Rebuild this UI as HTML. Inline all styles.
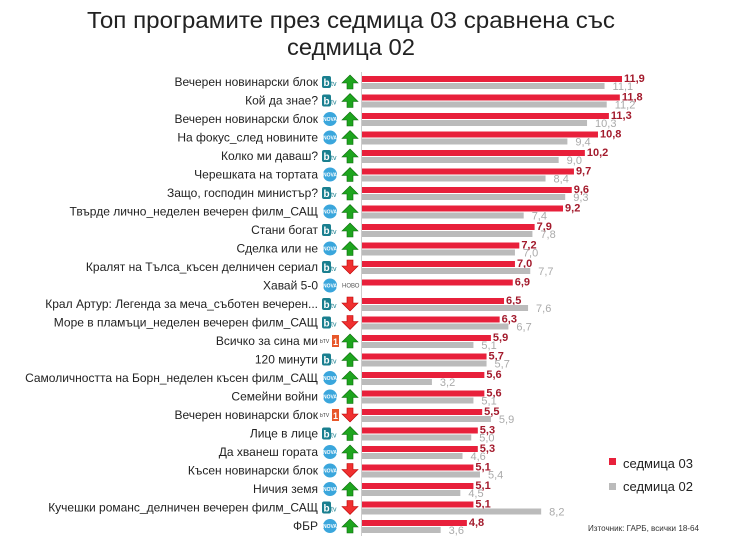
<!DOCTYPE html>
<html><head><meta charset="utf-8"><style>
body{margin:0;background:#fff;width:729px;height:536px;overflow:hidden}
svg{display:block;font-family:"Liberation Sans",sans-serif}
</style></head><body>
<svg id="s" width="729" height="536" xmlns="http://www.w3.org/2000/svg">
<text x="351" y="28" font-size="23" text-anchor="middle" fill="#222" textLength="528" lengthAdjust="spacingAndGlyphs">Топ програмите през седмица 03 сравнена със</text>
<text x="351" y="55" font-size="23" text-anchor="middle" fill="#222" textLength="128" lengthAdjust="spacingAndGlyphs">седмица 02</text>
<line x1="361.5" y1="72" x2="361.5" y2="536" stroke="#ccc" stroke-width="1"/>
<rect x="609" y="458" width="7" height="7" fill="#e8203b"/>
<text x="623" y="468" font-size="13" fill="#222">седмица 03</text>
<rect x="609" y="483" width="7" height="7" fill="#bbb"/>
<text x="623" y="491" font-size="13" fill="#222">седмица 02</text>
<text x="588" y="531" font-size="8" fill="#333" textLength="111" lengthAdjust="spacingAndGlyphs">Източник: ГАРБ, всички 18-64</text>
</svg>
<script>
const rows=[
["Вечерен новинарски блок","b",1,11.9,11.1],
["Кой да знае?","b",1,11.8,11.2],
["Вечерен новинарски блок","n",1,11.3,10.3],
["На фокус_след новините","n",1,10.8,9.4],
["Колко ми даваш?","b",1,10.2,9.0],
["Черешката на тортата","n",1,9.7,8.4],
["Защо, господин министър?","b",1,9.6,9.3],
["Твърде лично_неделен вечерен филм_САЩ","n",1,9.2,7.4],
["Стани богат","b",1,7.9,7.8],
["Сделка или не","n",1,7.2,7.0],
["Кралят на Тълса_късен делничен сериал","b",-1,7.0,7.7],
["Хавай 5-0","n",0,6.9,null],
["Крал Артур: Легенда за меча_съботен вечерен...","b",-1,6.5,7.6],
["Море в пламъци_неделен вечерен филм_САЩ","b",-1,6.3,6.7],
["Всичко за сина ми","o",1,5.9,5.1],
["120 минути","b",1,5.7,5.7],
["Самоличността на Борн_неделен късен филм_САЩ","n",1,5.6,3.2],
["Семейни войни","n",1,5.6,5.1],
["Вечерен новинарски блок","o",-1,5.5,5.9],
["Лице в лице","b",1,5.3,5.0],
["Да хванеш гората","n",1,5.3,4.6],
["Късен новинарски блок","n",-1,5.1,5.4],
["Ничия земя","n",1,5.1,4.5],
["Кучешки романс_делничен вечерен филм_САЩ","b",-1,5.1,8.2],
["ФБР","n",1,4.8,3.6]];
const s=document.getElementById('s');let h='';
const X0=362,K=21.85,f=v=>v.toFixed(1).replace('.',',');
rows.forEach((r,i)=>{const c=83+i*18.5;
h+=`<text x="318" y="${c+3}" font-size="12" text-anchor="end" fill="#222">${r[0]}</text>`;
if(r[1]=='b'){h+=`<rect x="322" y="${c-7}" width="9" height="12" rx="2" fill="#1a7f8f"/><text x="323.5" y="${c+3}" font-size="10" font-weight="bold" fill="#fff">b</text><text x="331" y="${c+3}" font-size="7" fill="#1a7f8f">tv</text>`}
else if(r[1]=='n'){h+=`<circle cx="330" cy="${c-1}" r="7" fill="#3aa6dc"/><text x="330" y="${c+1}" font-size="5" font-weight="bold" text-anchor="middle" fill="#fff">NOVA</text>`}
else {h+=`<text x="320" y="${c+1}" font-size="5" fill="#333">bTV</text><rect x="332" y="${c-7}" width="7" height="12" fill="#e8572a"/><text x="335.5" y="${c+3}" font-size="9" font-weight="bold" text-anchor="middle" fill="#fff">1</text>`}
if(r[2]==1)h+=`<polygon points="350,${c-8} 358,${c} 353,${c} 353,${c+6} 347,${c+6} 347,${c} 342,${c}" fill="#1ea51e" stroke="#0b6b0b" stroke-width=".6"/>`;
else if(r[2]==-1)h+=`<polygon points="350,${c+6} 358,${c-2} 353,${c-2} 353,${c-8} 347,${c-8} 347,${c-2} 342,${c-2}" fill="#f03030" stroke="#b00" stroke-width=".6"/>`;
else h+=`<text x="342" y="${c+1}" font-size="6" fill="#555">НОВО</text>`;
const rw=r[3]*K;h+=`<rect x="${X0}" y="${c-7}" width="${rw}" height="6" fill="#e8203b"/><text x="${X0+rw+2}" y="${c-1}" font-size="11" font-weight="bold" fill="#a31a2c">${f(r[3])}</text>`;
if(r[4]!=null){const gw=r[4]*K;h+=`<rect x="${X0}" y="${c}" width="${gw}" height="6" fill="#bbb"/><text x="${X0+gw+8}" y="${c+7}" font-size="11" fill="#aaa">${f(r[4])}</text>`}
});
s.insertAdjacentHTML('beforeend',h);
</script>
</body></html>
